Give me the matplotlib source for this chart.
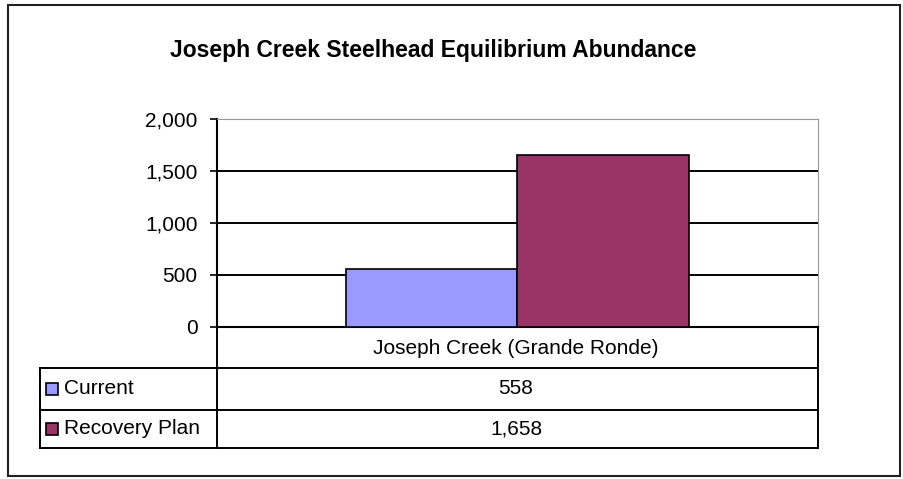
import matplotlib
matplotlib.use("Agg")
import matplotlib.pyplot as plt
from matplotlib.patches import Rectangle
from matplotlib.lines import Line2D
from matplotlib.ticker import FuncFormatter

# data
category = "Joseph Creek (Grande Ronde)"
series = ["Current", "Recovery Plan"]
values = [558, 1658]
colors = ["#9999FF", "#993366"]
yticks = [0, 500, 1000, 1500, 2000]

W, H = 904, 479
plt.rcParams["font.family"] = ["Liberation Sans", "DejaVu Sans"]

fig = plt.figure(figsize=(W / 100, H / 100), dpi=100)


def fx(x):
    return x / W


def fy(y):
    return 1 - y / H


# outer chart border
fig.patches.append(Rectangle((fx(8), fy(476)), fx(900) - fx(8), fy(5) - fy(476),
                             transform=fig.transFigure, fill=False,
                             edgecolor="#222222", linewidth=1.5))

fig.text(fx(433), fy(50), "Joseph Creek Steelhead Equilibrium Abundance",
         ha="center", va="center", fontsize=16.5, fontweight="bold")

# plot area
x0, x1, ytop, ybot = 217, 818, 119, 327
ax = fig.add_axes([fx(x0), fy(ybot), fx(x1) - fx(x0), fy(ytop) - fy(ybot)])

bw = 0.285
ax.bar(-bw, values[0], width=bw, align="edge", color=colors[0],
       edgecolor="black", linewidth=1.2, zorder=3)
ax.bar(0, values[1], width=bw, align="edge", color=colors[1],
       edgecolor="black", linewidth=1.2, zorder=3)

ax.set_xlim(-0.5, 0.5)
ax.set_ylim(0, 2000)
ax.set_yticks(yticks)
ax.yaxis.set_major_formatter(FuncFormatter(lambda v, p: f"{int(v):,}"))
ax.set_xticks([])
ax.tick_params(axis="y", length=5, width=1.2, labelsize=15, pad=9)
for v in yticks[1:-1]:
    ax.axhline(v, color="black", linewidth=1.4, zorder=1)
ax.spines["left"].set_linewidth(1.5)
ax.spines["bottom"].set_linewidth(1.5)
ax.spines["top"].set_color("#999999")
ax.spines["right"].set_color("#999999")

# data table below the plot
def hline(y, xa, xb):
    fig.lines.append(Line2D([fx(xa), fx(xb)], [fy(y), fy(y)],
                            transform=fig.transFigure, color="black", linewidth=1.4))


def vline(x, ya, yb):
    fig.lines.append(Line2D([fx(x), fx(x)], [fy(ya), fy(yb)],
                            transform=fig.transFigure, color="black", linewidth=1.4))


rows = [368, 410, 448]
for r in rows:
    hline(r, 40, x1)
vline(40, 368, 448)
vline(x0, ybot, 448)
vline(x1, ybot, 448)

fig.text(fx(516), fy(348), category, ha="center", va="center", fontsize=15)

for i, (name, val, col) in enumerate(zip(series, values, colors)):
    yc = (rows[i] + rows[i + 1]) / 2
    fig.patches.append(Rectangle((fx(46), fy(yc + 6)), fx(12), fy(0) - fy(12),
                                 transform=fig.transFigure, facecolor=col,
                                 edgecolor="black", linewidth=1.2))
    fig.text(fx(64), fy(yc), name, ha="left", va="center", fontsize=15)
    fig.text(fx(516), fy(yc), f"{val:,}", ha="center", va="center", fontsize=15)

fig.savefig("out.png", dpi=100)
